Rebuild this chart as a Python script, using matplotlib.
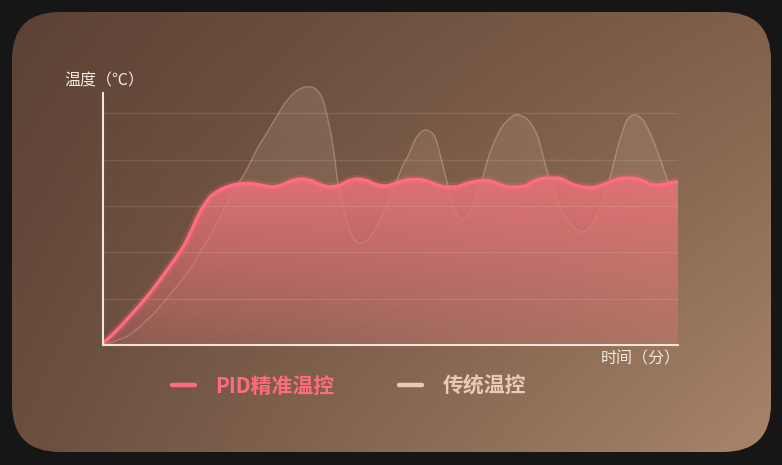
import numpy as np
import matplotlib
matplotlib.use("Agg")
import matplotlib.pyplot as plt
from matplotlib.patches import FancyBboxPatch, PathPatch
from matplotlib.path import Path

plt.rcParams['font.family'] = ['Noto Sans CJK SC', 'DejaVu Sans']

# 数据：时间（分）与温度（℃）
pid_time = [0.0, 1.57, 2.96, 4.70, 6.43, 8.17, 9.91, 11.65, 13.39, 14.61, 15.65, 16.87,
            17.74, 18.61, 20.0, 21.57, 22.96, 24.70, 26.43, 28.17, 29.57, 31.13, 32.52,
            34.26, 36.0, 37.74, 39.48, 41.22, 42.61, 44.17, 45.74, 47.30, 49.04, 50.78,
            52.52, 54.26, 56.0, 57.39, 58.96, 60.35, 61.74, 63.30, 65.04, 66.43, 67.65,
            69.04, 70.61, 72.0, 73.39, 74.78, 76.0, 77.74, 79.48, 80.70, 81.74, 83.48,
            85.22, 86.78, 88.17, 89.57, 91.13, 92.52, 93.74, 95.13, 96.35, 97.74, 98.96, 100.0]
pid_temp = [0.8, 4.3, 7.8, 12.5, 17.3, 22.5, 28.1, 34.1, 40.2, 45.4, 51.0, 57.5,
            60.9, 63.9, 66.5, 68.3, 69.3, 69.8, 69.5, 68.7, 68.3, 69.1, 70.6,
            71.7, 71.1, 69.3, 68.3, 69.1, 70.8, 71.7, 71.1, 69.5, 68.7, 69.8,
            71.1, 71.5, 71.1, 69.8, 68.5, 68.3, 68.5, 69.8, 70.8, 71.1, 70.6,
            69.3, 68.3, 68.3, 68.7, 70.4, 71.7, 72.1, 71.9, 70.6, 69.3, 68.3,
            68.0, 69.1, 70.4, 71.7, 72.1, 71.9, 71.1, 69.5, 69.1, 69.5, 70.2, 70.6]

trad_time = [0.0, 1.22, 2.61, 4.17, 5.91, 7.65, 9.39, 11.13, 12.87, 14.61, 16.0, 17.39,
             18.61, 19.83, 20.70, 21.57, 22.43, 23.30, 24.35, 25.57, 26.78, 28.17, 29.91,
             31.65, 33.39, 35.13, 36.87, 38.26, 39.13, 39.83, 40.35, 40.70, 41.39, 42.09,
             42.78, 43.48, 44.35, 45.39, 46.43, 47.65, 48.70, 49.91, 51.13, 52.17, 53.04,
             54.26, 55.13, 56.0, 56.87, 57.74, 58.78, 60.0, 61.22, 62.61, 64.0, 65.04,
             65.91, 66.78, 67.65, 68.52, 69.39, 70.43, 71.65, 72.87, 73.91, 74.78, 75.65,
             76.70, 77.74, 78.61, 79.48, 80.35, 81.22, 82.26, 83.30, 84.35, 85.22, 86.43,
             87.65, 88.52, 89.39, 90.26, 91.13, 92.17, 93.04, 93.91, 94.78, 95.65, 96.52,
             97.39, 98.26, 99.13, 100.0]
trad_temp = [0.4, 0.9, 2.2, 3.7, 6.9, 10.8, 15.1, 20.3, 25.5, 31.1, 36.3, 42.3,
             47.1, 52.7, 57.0, 61.3, 65.2, 68.7, 73.0, 78.6, 84.7, 90.3, 97.6,
             104.5, 109.3, 111.4, 110.8, 105.8, 97.2, 88.6, 79.9, 72.6, 63.5, 56.2,
             50.5, 46.7, 44.1, 44.5, 46.7, 51.4, 57.0, 64.4, 71.3, 77.8, 81.6,
             88.6, 91.6, 92.9, 92.2, 89.9, 80.8, 68.7, 58.3, 54.0, 58.3, 64.8,
             71.3, 79.1, 85.5, 90.3, 94.2, 97.2, 99.4, 98.9, 97.2, 94.2, 89.9,
             79.9, 71.3, 65.2, 59.6, 55.7, 52.7, 50.1, 48.8, 50.1, 52.7, 59.2,
             67.0, 75.6, 84.2, 91.6, 97.2, 99.4, 98.9, 97.2, 93.3, 88.6, 82.9,
             76.9, 70.4, 64.8, 59.2]

grid_levels = [20, 40, 60, 80, 100]

y_label = "温度（℃）"
x_label = "时间（分）"
legend_labels = ["PID精准温控", "传统温控"]

pid_color = "#ff6b7f"
trad_color = "#e8cbb5"

W, H = 782, 465
fig = plt.figure(figsize=(W / 100, H / 100), dpi=100)
fig.patch.set_facecolor("#161616")

# 背景卡片（渐变 + 圆角）
bg = fig.add_axes([0, 0, 1, 1])
bg.set_xlim(0, W)
bg.set_ylim(H, 0)
bg.axis("off")
card = FancyBboxPatch((12, 12), 759, 440, boxstyle="round,pad=0,rounding_size=48",
                      facecolor="none", edgecolor="none", transform=bg.transData)
bg.add_patch(card)
c_tl = np.array([92, 66, 52]) / 255
c_tr = np.array([128, 96, 75]) / 255
c_bl = np.array([106, 78, 62]) / 255
c_br = np.array([168, 132, 106]) / 255
u = np.linspace(0, 1, 200)[None, :, None]
v = np.linspace(0, 1, 120)[:, None, None]
img = (c_tl * (1 - u) * (1 - v) + c_tr * u * (1 - v) + c_bl * (1 - u) * v + c_br * u * v)
im = bg.imshow(img, extent=[12, 771, 452, 12], origin="upper", aspect="auto", interpolation="bilinear")
im.set_clip_path(card)

# 主图
ax = fig.add_axes([103 / W, 120 / H, 575 / W, 277.8 / H])
ax.patch.set_alpha(0)
ax.set_xlim(0, 100)
ax.set_ylim(0, 120)


def smooth_path(x, y, close=False):
    # 平滑曲线，经过每个数据点（三次 Hermite -> Bezier）
    x = np.asarray(x, float)
    y = np.asarray(y, float)
    n = len(x)
    m = np.zeros(n)
    m[1:-1] = (y[2:] - y[:-2]) / (x[2:] - x[:-2])
    m[0] = (y[1] - y[0]) / (x[1] - x[0])
    m[-1] = (y[-1] - y[-2]) / (x[-1] - x[-2])
    verts = [(x[0], y[0])]
    codes = [Path.MOVETO]
    for i in range(n - 1):
        d = (x[i + 1] - x[i]) / 3
        verts += [(x[i] + d, y[i] + m[i] * d), (x[i + 1] - d, y[i + 1] - m[i + 1] * d),
                  (x[i + 1], y[i + 1])]
        codes += [Path.CURVE4] * 3
    if close:
        verts += [(x[-1], 0), (x[0], 0), (x[0], y[0])]
        codes += [Path.LINETO, Path.LINETO, Path.CLOSEPOLY]
    return Path(verts, codes)


def gradient_fill(x, y, rgb, a_top, a_bot, z):
    grad = np.zeros((256, 1, 4))
    grad[..., :3] = rgb
    grad[:, 0, 3] = np.linspace(a_bot, a_top, 256)
    g = ax.imshow(grad, extent=[0, 100, 0, max(y)], origin="lower", aspect="auto", zorder=z)
    g.set_clip_path(smooth_path(x, y, close=True), transform=ax.transData)


def smooth_line(x, y, **kw):
    ax.add_patch(PathPatch(smooth_path(x, y), fill=False, transform=ax.transData,
                           capstyle="round", joinstyle="round", **kw))


gradient_fill(trad_time, trad_temp, np.array([235, 205, 178]) / 255, 0.15, 0.03, 1)
smooth_line(trad_time, trad_temp, edgecolor=trad_color, alpha=0.35, lw=1.0, zorder=1.5)
gradient_fill(pid_time, pid_temp, np.array([232, 114, 120]) / 255, 0.90, 0.25, 2)

ax.hlines(grid_levels, 0, 100, color=(1, 0.9, 0.82), alpha=0.13, lw=1, zorder=2.5)

smooth_line(pid_time, pid_temp, edgecolor=pid_color, alpha=0.22, lw=6, zorder=4)
smooth_line(pid_time, pid_temp, edgecolor=pid_color, lw=2.4, zorder=5)

for s in ["top", "right"]:
    ax.spines[s].set_visible(False)
for s in ["left", "bottom"]:
    ax.spines[s].set_color("#f2e4da")
    ax.spines[s].set_linewidth(1.5)
    ax.spines[s].set_zorder(6)
ax.spines["left"].set_bounds(0, 108.9)
ax.set_xticks([])
ax.set_yticks([])

# 文字
bg.text(64, 81, y_label, fontsize=11.5, color="#f2e8df", ha="left", va="center")
bg.text(681, 359, x_label, fontsize=11.5, color="#f2e8df", ha="right", va="center")

bg.plot([172, 195], [385, 385], color=pid_color, lw=3.2, solid_capstyle="round")
bg.text(215, 386, legend_labels[0], fontsize=15, color=pid_color, ha="left", va="center",
        fontweight="bold")
bg.plot([399, 422], [385, 385], color=trad_color, lw=3.2, solid_capstyle="round")
bg.text(443, 386, legend_labels[1], fontsize=15, color=trad_color, ha="left", va="center",
        fontweight="bold")

fig.savefig("out.png", dpi=100, facecolor=fig.get_facecolor())
